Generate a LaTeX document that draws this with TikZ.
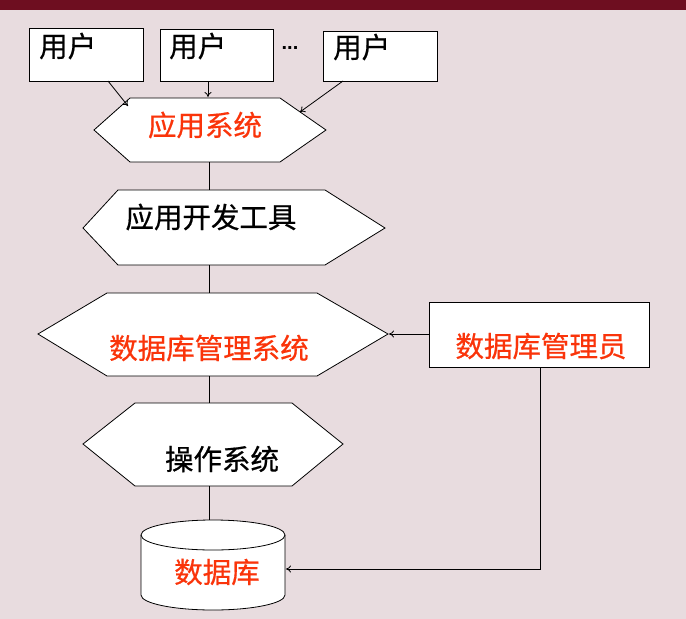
\documentclass[tikz,border=0pt]{standalone}
\usepackage{fontspec}
\setmainfont{Liberation Sans}
\newfontfamily\cjk{Noto Sans CJK SC}[FakeBold=0.6]
\usetikzlibrary{arrows.meta}
\definecolor{bgpink}{RGB}{232,220,223}
\definecolor{bandred}{RGB}{110,14,32}
\definecolor{txtred}{RGB}{250,52,10}
\begin{document}
\begin{tikzpicture}[x=1pt,y=-1pt,
  shp/.style={draw=black,fill=white,line width=0.8pt},
  lbl/.style={inner sep=0pt,font=\cjk\fontsize{28.5}{31}\selectfont},
  conn/.style={draw=black,line width=0.8pt},
  arr/.style={conn,-{To[length=5pt,width=7pt]}}]
\useasboundingbox (0,0) rectangle (686,619);
\fill[bgpink] (0,0) rectangle (686,619);
\fill[bandred] (0,0) rectangle (686,10);
% user boxes
\draw[shp] (29,28) rectangle (143,81);
\draw[shp] (160,29) rectangle (273,81);
\draw[shp] (323,31) rectangle (437,81);
\node[lbl,anchor=west] (u1) at (39,46) {用户};
\node[lbl,anchor=west] (u2) at (169,46) {用户};
\node[lbl,anchor=west] (u3) at (333,47) {用户};
\node[inner sep=0pt,font=\bfseries\fontsize{20}{22}\selectfont] (dots) at (290,48) {...};
\coordinate (u1b) at (108,81);
\coordinate (u2b) at (208,81);
\coordinate (u3b) at (343,81);
% hex 1
\draw[shp] (94,130) -- (130,98) -- (280,98) -- (326,130) -- (280,162) -- (130,162) -- cycle;
\node[lbl,text=txtred] (app) at (205,125) {应用系统};
\coordinate (h1a) at (128,106);
\coordinate (h1b) at (208,97);
\coordinate (h1c) at (300,112);
\coordinate (h1bot) at (209,162);
% hex 2
\draw[shp] (83,228) -- (118,190) -- (325,190) -- (385,228) -- (325,265) -- (118,265) -- cycle;
\node[lbl] (tool) at (211,217) {应用开发工具};
\coordinate (h2top) at (209,190);
\coordinate (h2bot) at (209,265);
% hex 3
\draw[shp] (38,334) -- (107,293) -- (317,293) -- (388,334) -- (317,376) -- (107,376) -- cycle;
\node[lbl,text=txtred] (dbms) at (209,348) {数据库管理系统};
\coordinate (h3top) at (209,293);
\coordinate (h3bot) at (209,376);
\coordinate (h3r) at (389,334);
% DBA box
\draw[shp] (429,302) rectangle (649,367);
\node[lbl,text=txtred] (dba) at (541,346) {数据库管理员};
\coordinate (dbal) at (429,334);
\coordinate (dbab) at (540,367);
\coordinate (corner) at (540,569);
% hex 4
\draw[shp] (83,444) -- (135,403) -- (292,403) -- (343,444) -- (292,486) -- (135,486) -- cycle;
\node[lbl] (os) at (222,459) {操作系统};
\coordinate (h4top) at (209,403);
\coordinate (h4bot) at (209,486);
% cylinder
\draw[shp] (141,535) -- (141,595) arc[start angle=180,end angle=0,x radius=72,y radius=15] -- (285,535) arc[start angle=0,end angle=-180,x radius=72,y radius=15] -- cycle;
\draw[shp,fill=none] (141,535) arc[start angle=180,end angle=0,x radius=72,y radius=15];
\node[lbl,text=txtred] (db) at (217,572) {数据库};
\coordinate (dbtop) at (209,520);
\coordinate (dbr) at (286,569);
% connectors
\draw[arr] (u1b) -- (h1a);
\draw[arr] (u2b) -- (h1b);
\draw[arr] (u3b) -- (h1c);
\draw[conn] (h1bot) -- (h2top);
\draw[conn] (h2bot) -- (h3top);
\draw[conn] (h3bot) -- (h4top);
\draw[conn] (h4bot) -- (dbtop);
\draw[arr] (dbal) -- (h3r);
\draw[arr] (dbab) -- (corner) -- (dbr);
\end{tikzpicture}
\end{document}
